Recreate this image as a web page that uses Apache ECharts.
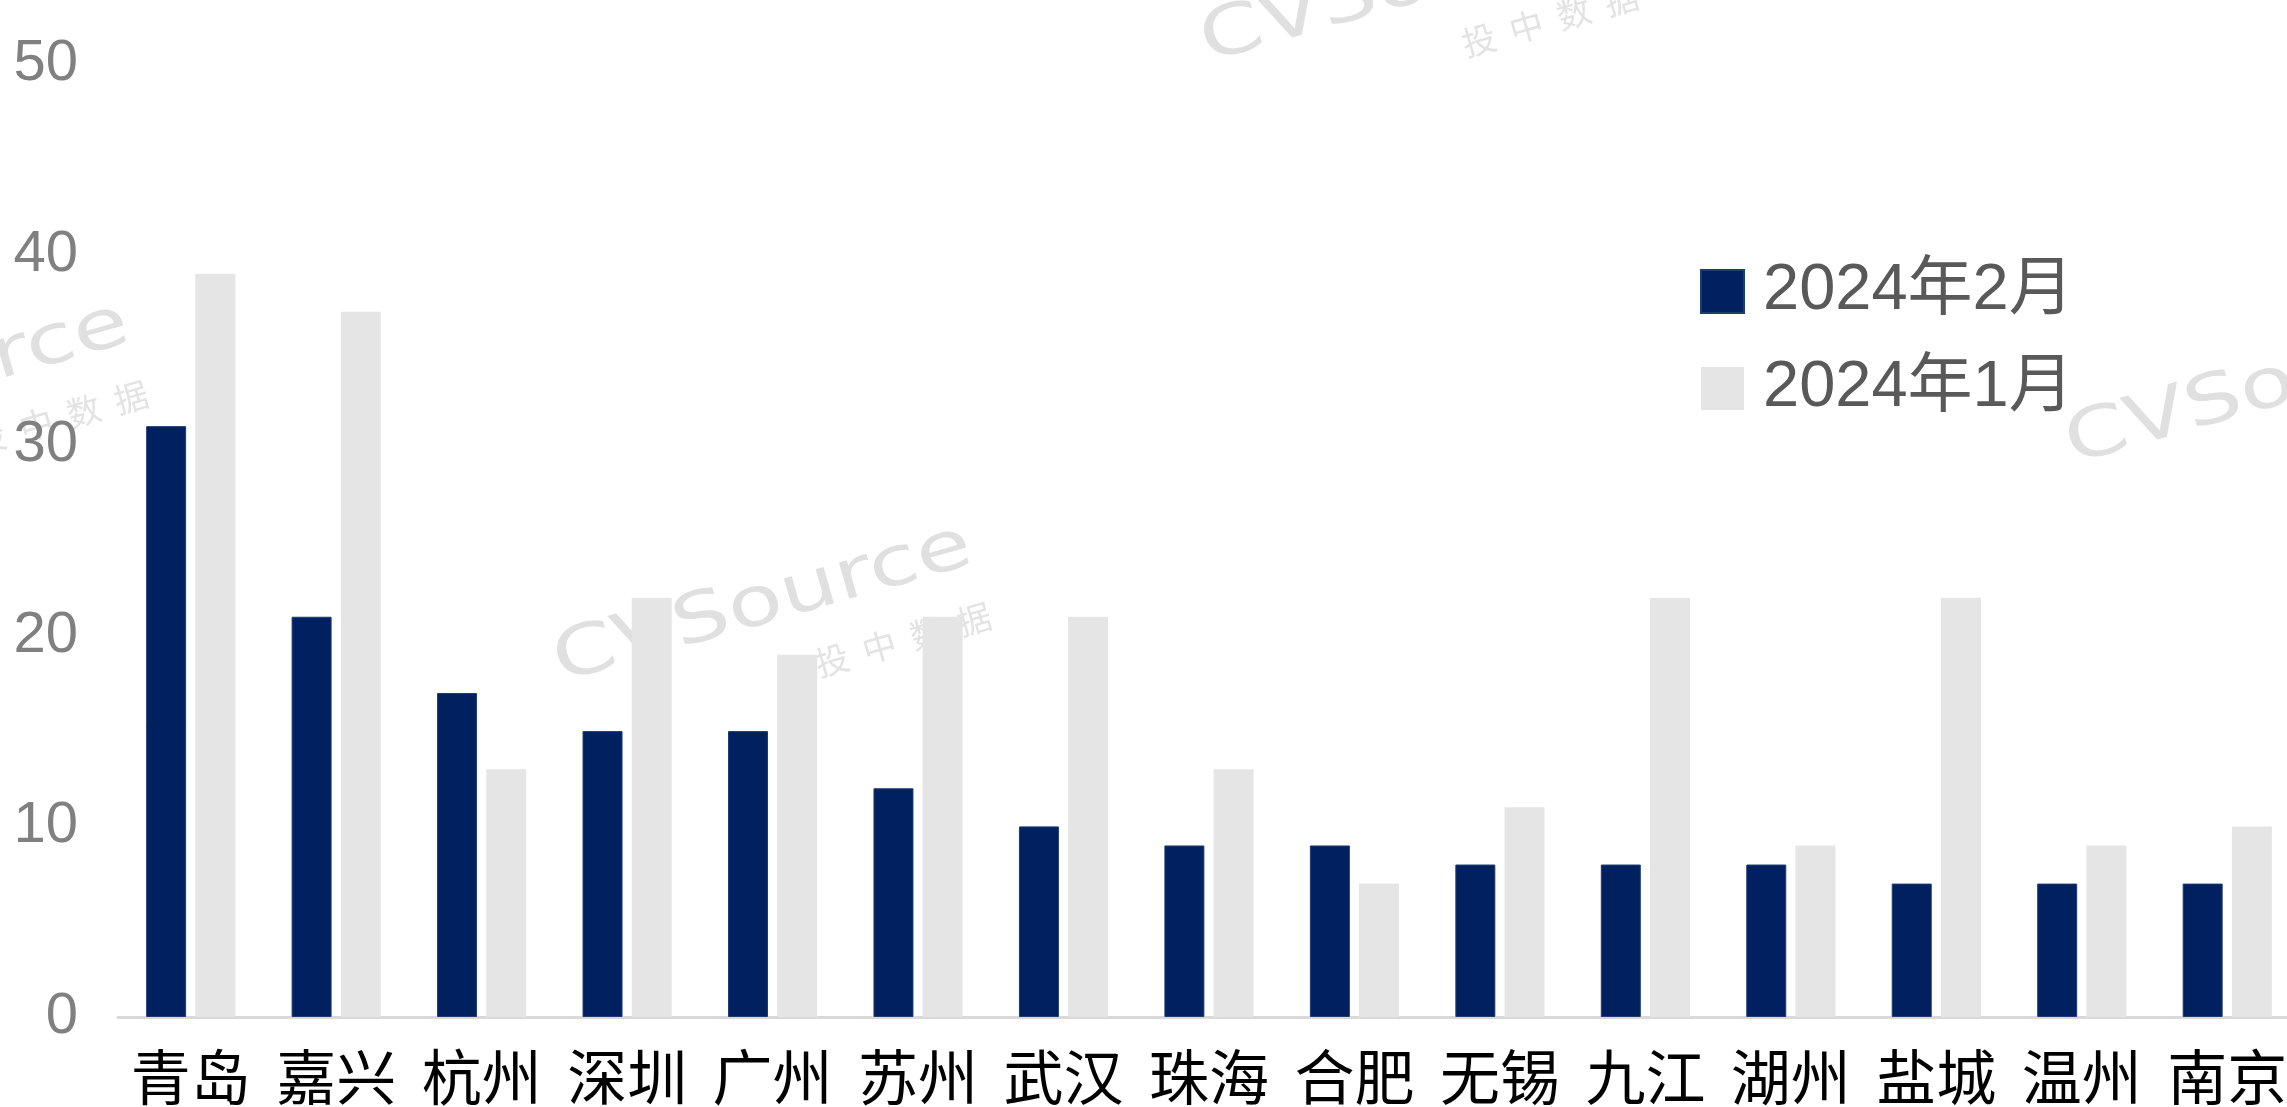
<!DOCTYPE html>
<html>
<head>
<meta charset="utf-8">
<script src="https://cdn.jsdelivr.net/npm/echarts@6/dist/echarts.min.js"></script>
<style>
html,body{margin:0;padding:0;background:#fff;overflow:hidden;width:2287px;height:1107px;}
#chart{width:2300px;height:1107px;}
</style>
</head>
<body>
<div id="chart"></div>
<script>
const categories = ['青岛','嘉兴','杭州','深圳','广州','苏州','武汉','珠海','合肥','无锡','九江','湖州','盐城','温州','南京'];
const feb2024 = [31,21,17,15,15,12,10,9,9,8,8,8,7,7,7];
const jan2024 = [39,37,13,22,19,21,21,13,7,11,22,9,22,9,10];
const seriesNames = ['2024年2月','2024年1月'];
const yTicks = [0,10,20,30,40,50];

const chart = echarts.init(document.getElementById('chart'));

function watermark(cx, cy) {
  return {
    type: 'group',
    x: cx, y: cy,
    rotation: 16 * Math.PI / 180,
    z: 0,
    silent: true,
    children: [
      {
        type: 'text', x: 0, y: 0, scaleX: 1.3, z: 0,
        style: { text: 'CVSource', fill: '#e0e0e0', font: '400 69px "DejaVu Sans"', align: 'center', verticalAlign: 'middle' }
      },
      {
        type: 'text', x: 125, y: 72, z: 0,
        style: { text: '投  中  数  据', fill: '#e3e3e3', font: '34px "Noto Sans CJK SC"', align: 'center', verticalAlign: 'middle' }
      }
    ]
  };
}

const option = {
  backgroundColor: '#ffffff',
  animation: false,
  graphic: [
    watermark(763, 605),
    watermark(1410, -15),
    watermark(-80, 383),
    watermark(2275, 387)
  ],
  legend: {
    orient: 'vertical',
    left: 1695,
    top: 254,
    itemWidth: 43,
    itemHeight: 43,
    itemGap: 32,
    icon: 'rect',
    data: seriesNames,
    textStyle: {
      fontSize: 65,
      color: '#595959',
      fontFamily: '"Liberation Sans", "Noto Sans CJK SC"',
      padding: [0, 0, 0, 14]
    }
  },
  grid: { left: 118, right: 0, top: 64, bottom: 85 },
  xAxis: {
    type: 'category',
    data: categories,
    axisTick: { show: false },
    axisLine: { lineStyle: { color: '#d9d9d9', width: 3 } },
    axisLabel: {
      interval: 0,
      fontSize: 60,
      color: '#000000',
      margin: 30,
      fontFamily: '"Noto Sans CJK SC"'
    }
  },
  yAxis: {
    type: 'value',
    min: yTicks[0],
    max: yTicks[yTicks.length - 1],
    interval: 10,
    splitLine: { show: false },
    axisLine: { show: false },
    axisTick: { show: false },
    axisLabel: {
      fontSize: 58,
      color: '#808080',
      margin: 40,
      fontFamily: '"Liberation Sans"'
    }
  },
  series: [
    {
      name: seriesNames[0],
      type: 'bar',
      data: feb2024,
      barWidth: 40,
      barGap: '23%',
      z: 2,
      itemStyle: { color: '#002060', borderColor: '#1f3c72', borderWidth: 1 }
    },
    {
      name: seriesNames[1],
      type: 'bar',
      data: jan2024,
      barWidth: 40,
      z: 2,
      itemStyle: { color: '#e5e5e5' }
    }
  ]
};
chart.setOption(option);
</script>
</body>
</html>
